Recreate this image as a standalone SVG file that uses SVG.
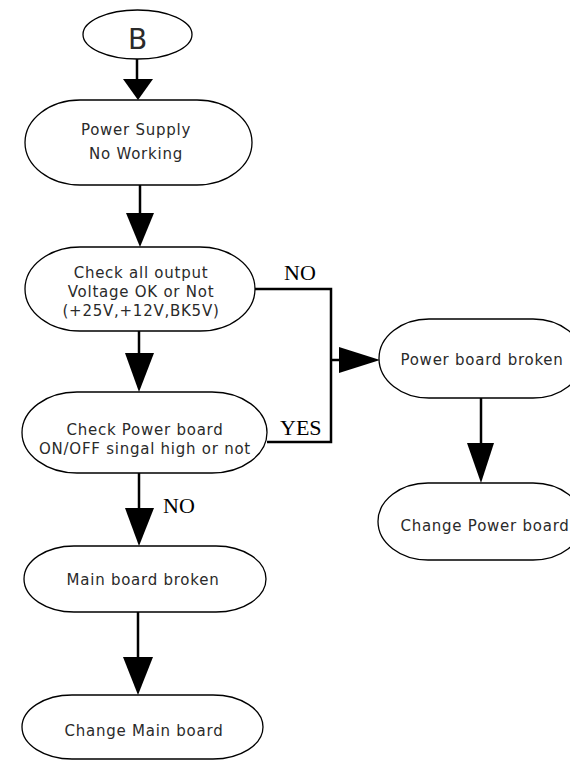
<svg xmlns="http://www.w3.org/2000/svg" width="570" height="760" viewBox="0 0 570 760">
<style>
.node{fill:#fff;stroke:#000;stroke-width:1.3}
.t{font-family:"DejaVu Sans",sans-serif;font-size:15px;letter-spacing:0.75px;fill:#2a2a2a;text-anchor:middle}
.lbl{font-family:"Liberation Serif",serif;font-size:22px;fill:#000}
.c{stroke:#000;stroke-width:2.5;fill:none}
.ah{fill:#000;stroke:none}
</style>
<rect width="570" height="760" fill="#fff"/>
<g id="connectors">
<line class="c" x1="137" y1="59" x2="137" y2="80"/>
<polygon class="ah" points="123,79 153,79 138,100"/>
<line class="c" x1="140" y1="185" x2="140" y2="214"/>
<polygon class="ah" points="126,213 154,213 140,247"/>
<line class="c" x1="139" y1="331" x2="139" y2="354"/>
<polygon class="ah" points="125,353 154,353 139,392"/>
<polyline class="c" points="255,289 331,289 331,442 267,442"/>
<line class="c" x1="331" y1="360" x2="340" y2="360"/>
<polygon class="ah" points="339,347 339,373 380,360"/>
<line class="c" x1="481" y1="398" x2="481" y2="444"/>
<polygon class="ah" points="467,443 494,443 481,483"/>
<line class="c" x1="139" y1="473" x2="139" y2="509"/>
<polygon class="ah" points="125,508 154,508 139,546"/>
<line class="c" x1="138" y1="612" x2="138" y2="658"/>
<polygon class="ah" points="123,657 153,657 138,695"/>
<text class="lbl" x="284" y="280">NO</text>
<text class="lbl" x="280" y="435">YES</text>
<text class="lbl" x="163" y="513">NO</text>
</g>
<g id="start">
<ellipse class="node" cx="137.5" cy="34.5" rx="54.5" ry="24.5" stroke-width="2"/>
<text x="137.5" y="49" font-family="DejaVu Sans, sans-serif" font-size="28" fill="#2a2a2a" text-anchor="middle">B</text>
</g>
<g id="power-supply">
<rect class="node" x="25" y="100" width="227" height="85" rx="55" ry="42.5"/>
<text class="t" x="136" y="135">Power Supply</text>
<text class="t" x="136" y="159">No Working</text>
</g>
<g id="check-output">
<rect class="node" x="25" y="247" width="230" height="84" rx="55" ry="42"/>
<text class="t" x="141" y="278">Check all output</text>
<text class="t" x="141" y="297">Voltage OK or Not</text>
<text class="t" x="141" y="316">(+25V,+12V,BK5V)</text>
</g>
<g id="check-onoff">
<rect class="node" x="22" y="392" width="245" height="81" rx="55" ry="40.5"/>
<text class="t" x="145" y="435">Check Power board</text>
<text class="t" x="145" y="454">ON/OFF singal high or not</text>
</g>
<g id="power-board-broken">
<rect class="node" x="379" y="319" width="204" height="79" rx="50" ry="39.5"/>
<text class="t" x="482" y="365">Power board broken</text>
</g>
<g id="change-power-board">
<rect class="node" x="378" y="483" width="205" height="77" rx="50" ry="38.5"/>
<text class="t" x="485" y="531">Change Power board</text>
</g>
<g id="main-board-broken">
<rect class="node" x="24" y="546" width="242" height="66" rx="50" ry="33"/>
<text class="t" x="143" y="585">Main board broken</text>
</g>
<g id="change-main-board">
<rect class="node" x="22" y="695" width="241" height="64" rx="50" ry="32"/>
<text class="t" x="144" y="736">Change Main board</text>
</g>
</svg>
